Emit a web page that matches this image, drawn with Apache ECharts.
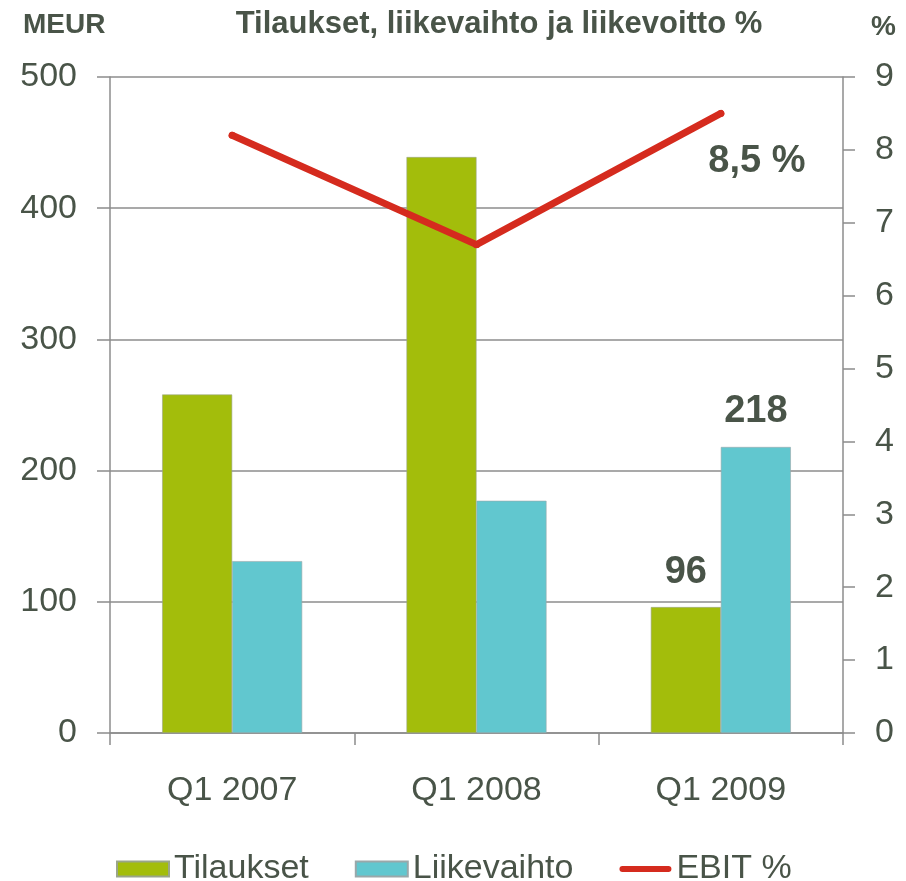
<!DOCTYPE html>
<html>
<head>
<meta charset="utf-8">
<script src="https://cdn.jsdelivr.net/npm/echarts@6/dist/echarts.min.js"></script>
<style>
  html, body { margin: 0; padding: 0; background: #fff; }
  #chartmain { width: 906px; height: 881px; }
</style>
</head>
<body>
<div id="chartmain"></div>
<script>
var categories = ['Q1 2007', 'Q1 2008', 'Q1 2009'];
var tilaukset = [258, 439, 96];      // MEUR
var liikevaihto = [131, 177, 218];   // MEUR
var ebit = [8.2, 6.7, 8.5];          // %

var textColor = '#495448';
var axisColor = '#8c8c8c';
var font = 'Liberation Sans, Arial, sans-serif';

// vain viimeinen neljännes saa arvon näkyviin
function lastLabel(arr) {
    return arr.map(function (v, i) {
        return i === arr.length - 1 ? { value: v, label: { show: true } } : v;
    });
}

var chart = echarts.init(document.getElementById('chartmain'));
chart.setOption({
    backgroundColor: '#fff',
    animation: false,
    textStyle: { fontFamily: font },
    title: [
        {
            text: 'Tilaukset, liikevaihto ja liikevoitto %',
            left: 494, top: 4, textAlign: 'center',
            textStyle: { fontSize: 31, fontWeight: 'bold', color: textColor, fontFamily: font }
        },
        {
            text: 'MEUR', left: 18, top: 6,
            textStyle: { fontSize: 28, fontWeight: 'bold', color: textColor, fontFamily: font }
        },
        {
            text: '%', left: 866, top: 8,
            textStyle: { fontSize: 28, fontWeight: 'bold', color: textColor, fontFamily: font }
        }
    ],
    legend: {
        left: 111, top: 847,
        itemWidth: 52, itemHeight: 15, itemGap: 46,
        textStyle: { fontSize: 34, color: textColor, fontFamily: font },
        data: [
            { name: 'Tilaukset', icon: 'rect' },
            { name: 'Liikevaihto', icon: 'rect' },
            { name: 'EBIT %', icon: 'path://M3.5,0 H56.5 A3.5,3.5 0 0 1 56.5,7 H3.5 A3.5,3.5 0 0 1 3.5,0 Z' }
        ]
    },
    grid: { left: 110, right: 63, top: 77, bottom: 148 },
    xAxis: {
        type: 'category',
        data: categories,
        axisLine: { lineStyle: { color: axisColor, width: 1.5 } },
        axisTick: { show: true, length: 12, lineStyle: { color: axisColor, width: 1.5 } },
        axisLabel: { fontSize: 34, color: textColor, margin: 41 }
    },
    yAxis: [
        {
            type: 'value', min: 0, max: 500, interval: 100,
            axisLine: { show: true, lineStyle: { color: axisColor, width: 1.5 } },
            axisTick: { show: true, length: 13, lineStyle: { color: axisColor, width: 1.5 } },
            splitLine: { show: true, lineStyle: { color: axisColor, width: 1.5 } },
            axisLabel: { fontSize: 34, color: textColor, margin: 33 }
        },
        {
            type: 'value', min: 0, max: 9, interval: 1,
            axisLine: { show: true, lineStyle: { color: axisColor, width: 1.5 } },
            axisTick: { show: true, length: 12, lineStyle: { color: axisColor, width: 1.5 } },
            splitLine: { show: false },
            axisLabel: { fontSize: 34, color: textColor, margin: 32 }
        }
    ],
    series: [
        {
            name: 'Tilaukset',
            type: 'bar',
            barWidth: 70,
            barGap: '0%',
            itemStyle: { color: '#a3bd0b', borderColor: '#9aa58a', borderWidth: 0.6 },
            label: { position: 'top', distance: 16, fontSize: 38, fontWeight: 'bold', color: textColor },
            data: lastLabel(tilaukset)
        },
        {
            name: 'Liikevaihto',
            type: 'bar',
            barWidth: 70,
            itemStyle: { color: '#61c7cf', borderColor: '#9aa8aa', borderWidth: 0.6 },
            label: { position: 'top', distance: 16, fontSize: 38, fontWeight: 'bold', color: textColor },
            data: lastLabel(liikevaihto)
        },
        {
            name: 'EBIT %',
            type: 'line',
            yAxisIndex: 1,
            symbol: 'circle',
            symbolSize: 7,
            itemStyle: { color: '#d52b1e' },
            lineStyle: { color: '#d52b1e', width: 7, cap: 'round' },
            label: {
                position: 'inside', offset: [36, 48],
                fontSize: 38, fontWeight: 'bold', color: textColor,
                formatter: function (p) { return String(p.value).replace('.', ',') + ' %'; }
            },
            data: lastLabel(ebit),
            z: 5
        }
    ]
});
</script>
</body>
</html>
